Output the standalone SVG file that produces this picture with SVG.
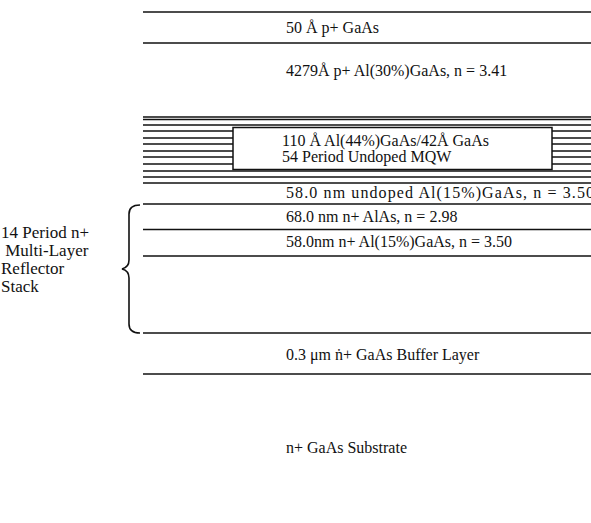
<svg xmlns="http://www.w3.org/2000/svg" width="591" height="523" viewBox="0 0 591 523">
<style>
.l{stroke:#111;stroke-width:1.5;fill:none}
.t{font-family:"Liberation Serif","Times New Roman",serif;font-size:16px;fill:#111}
.s{font-family:"Liberation Serif","Times New Roman",serif;font-size:17px;fill:#111}
.b{stroke:#111;stroke-width:1.6;fill:none}
</style>
<rect width="591" height="523" fill="#fff"/>
<g id="layers">
<line class="l" x1="143" y1="12" x2="591" y2="12"/>
<line class="l" x1="143" y1="43" x2="591" y2="43"/>
<line class="l" x1="143" y1="117" x2="591" y2="117"/>
<line class="l" x1="143" y1="119.5" x2="591" y2="119.5"/>
<line class="l" x1="143" y1="125" x2="591" y2="125"/>
<line class="l" x1="143" y1="131" x2="591" y2="131"/>
<line class="l" x1="143" y1="138" x2="591" y2="138"/>
<line class="l" x1="143" y1="144" x2="591" y2="144"/>
<line class="l" x1="143" y1="151" x2="591" y2="151"/>
<line class="l" x1="143" y1="157" x2="591" y2="157"/>
<line class="l" x1="143" y1="164" x2="591" y2="164"/>
<line class="l" x1="143" y1="171" x2="591" y2="171"/>
<line class="l" x1="143" y1="177" x2="591" y2="177"/>
<line class="l" x1="143" y1="183" x2="591" y2="183"/>
<line class="l" x1="143" y1="204" x2="591" y2="204"/>
<line class="l" x1="143" y1="229.5" x2="591" y2="229.5"/>
<line class="l" x1="143" y1="256" x2="591" y2="256"/>
<line class="l" x1="143" y1="333" x2="591" y2="333"/>
<line class="l" x1="143" y1="374" x2="591" y2="374"/>
</g>
<g id="mqw">
<rect x="233" y="127.5" width="319" height="42" fill="#fff" stroke="#111" stroke-width="1.5"/>
<text class="t" x="282" y="146">110 Å Al(44%)GaAs/42Å GaAs</text>
<text class="t" x="282" y="162">54 Period Undoped MQW</text>
</g>
<g id="labels">
<text class="t" x="286" y="33">50 Å p+ GaAs</text>
<text class="t" x="286" y="76">4279Å p+ Al(30%)GaAs, n = 3.41</text>
<text class="t" x="286" y="198" textLength="308" lengthAdjust="spacing">58.0 nm undoped Al(15%)GaAs, n = 3.50</text>
<text class="t" x="286" y="222">68.0 nm n+ AlAs, n = 2.98</text>
<text class="t" x="286" y="247">58.0nm n+ Al(15%)GaAs, n = 3.50</text>
<text class="t" x="286" y="360">0.3 μm ṅ+ GaAs Buffer Layer</text>
<text class="t" x="286" y="453">n+ GaAs Substrate</text>
</g>
<g id="stack-label">
<text class="s" x="1" y="238">14 Period n+</text>
<text class="s" x="1" y="256" xml:space="preserve"> Multi-Layer</text>
<text class="s" x="1" y="274">Reflector</text>
<text class="s" x="1" y="292">Stack</text>
<path class="b" d="M140,205 C132,205 129,208 129,214 L129,260 C129,266 126,268 122,269 C126,270 129,272 129,278 L129,324 C129,330 132,333 140,333"/>
</g>
</svg>
